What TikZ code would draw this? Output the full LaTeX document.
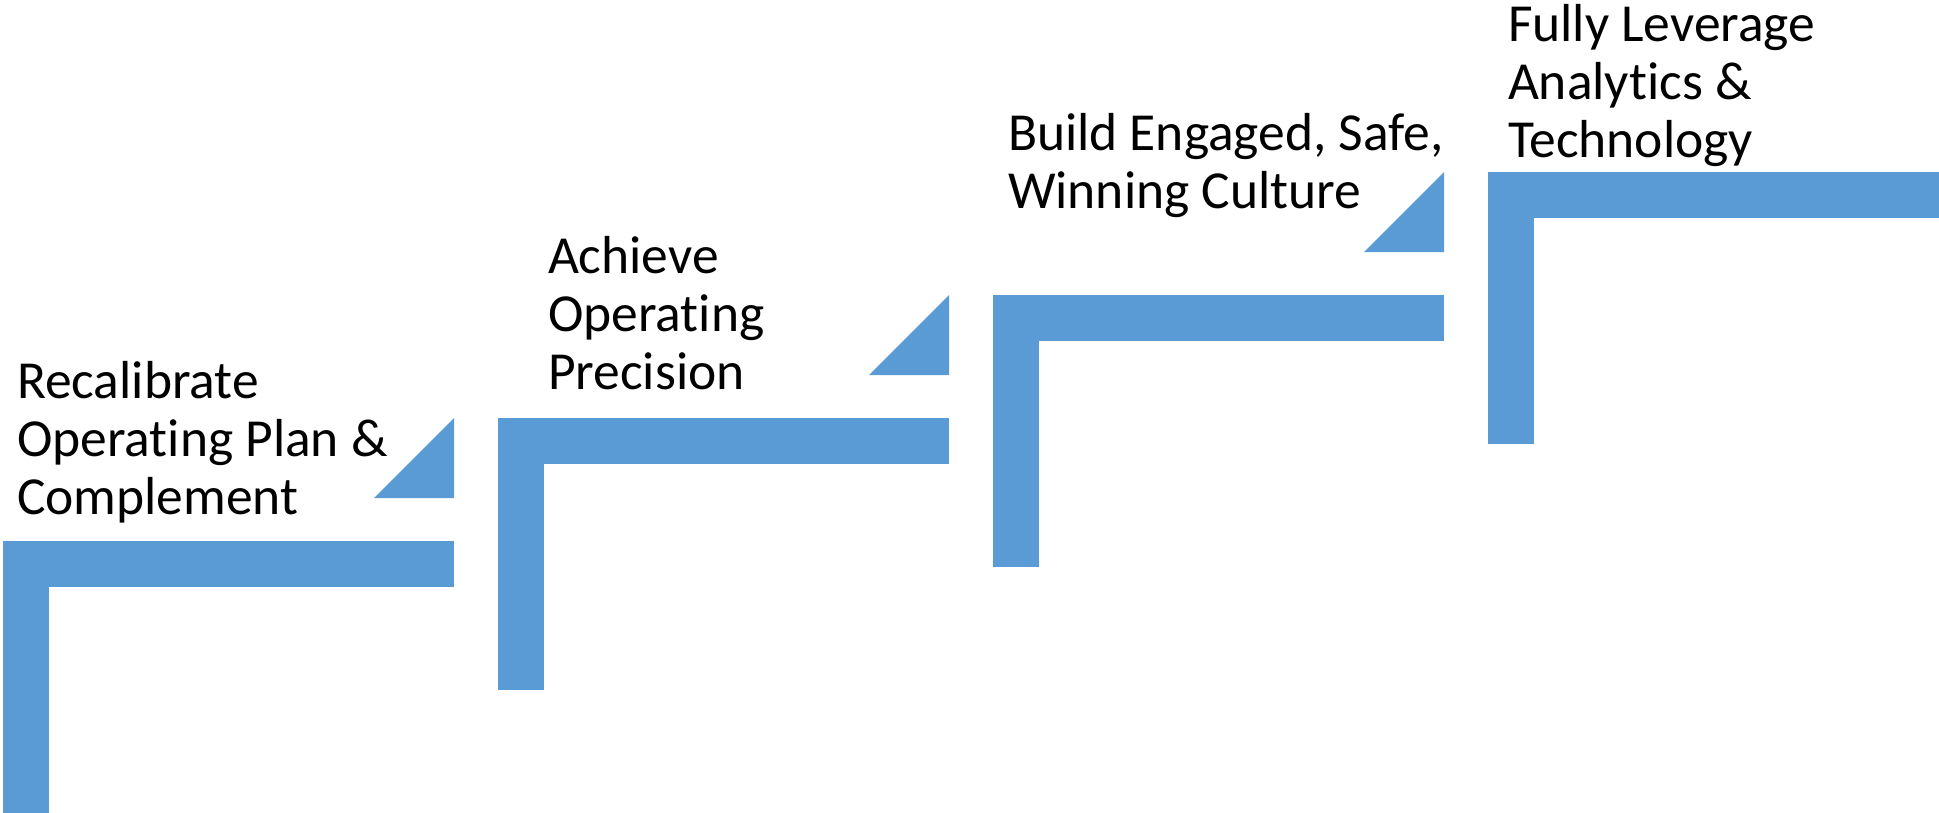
\documentclass[tikz,border=0pt]{standalone}
\usepackage{fontspec}
\setmainfont{Carlito}[RawFeature={-liga}]
\usepackage{tikz}
\usetikzlibrary{positioning}
\definecolor{stepblue}{HTML}{5B9BD5}

\begin{document}
\begin{tikzpicture}[x = 1pt, y = -1pt]
  \useasboundingbox (0,0) rectangle (1939,812);
  \tikzset{StepStyle/.style  = {fill           = stepblue,
                                draw           = none}}
  \tikzset{LabelStyle/.style = {anchor         = base west,
                                align          = left,
                                inner sep      = 0pt,
                                outer sep      = 0pt,
                                text           = black,
                                font           = \fontsize{53.5}{58}\selectfont}}
  % the four steps, each one L shaped
  \foreach \i in {0,...,3}{
     \pgfmathsetmacro{\sx}{3+495*\i}
     \pgfmathsetmacro{\sy}{541-123*\i}
     \ifnum\i=3
        \fill[StepStyle] (\sx,\sy) rectangle (1939,\sy+45.5);
     \else
        \fill[StepStyle] (\sx,\sy) rectangle (\sx+451,\sy+45.5);
        % small wedge up to the next step
        \fill[StepStyle] (\sx+451,\sy-123) -- (\sx+451,\sy-43)
                         -- (\sx+371,\sy-43) -- cycle;
     \fi
     \fill[StepStyle] (\sx,\sy) rectangle (\sx+46,\sy+272);
  }
  % labels, placed at the baseline of their last line
  \node[LabelStyle] (recal)   at (17,514)   {Recalibrate\\Operating Plan \&\\Complement};
  \node[LabelStyle] (achieve) at (548,389)  {Achieve\\Operating\\Precision};
  \node[LabelStyle] (build)   at (1008,208.5) {Build Engaged, Safe,\\Winning Culture};
  \node[LabelStyle] (fully)   at (1508,157) {Fully Leverage\\Analytics \&\\Technology};
\end{tikzpicture}
\end{document}
